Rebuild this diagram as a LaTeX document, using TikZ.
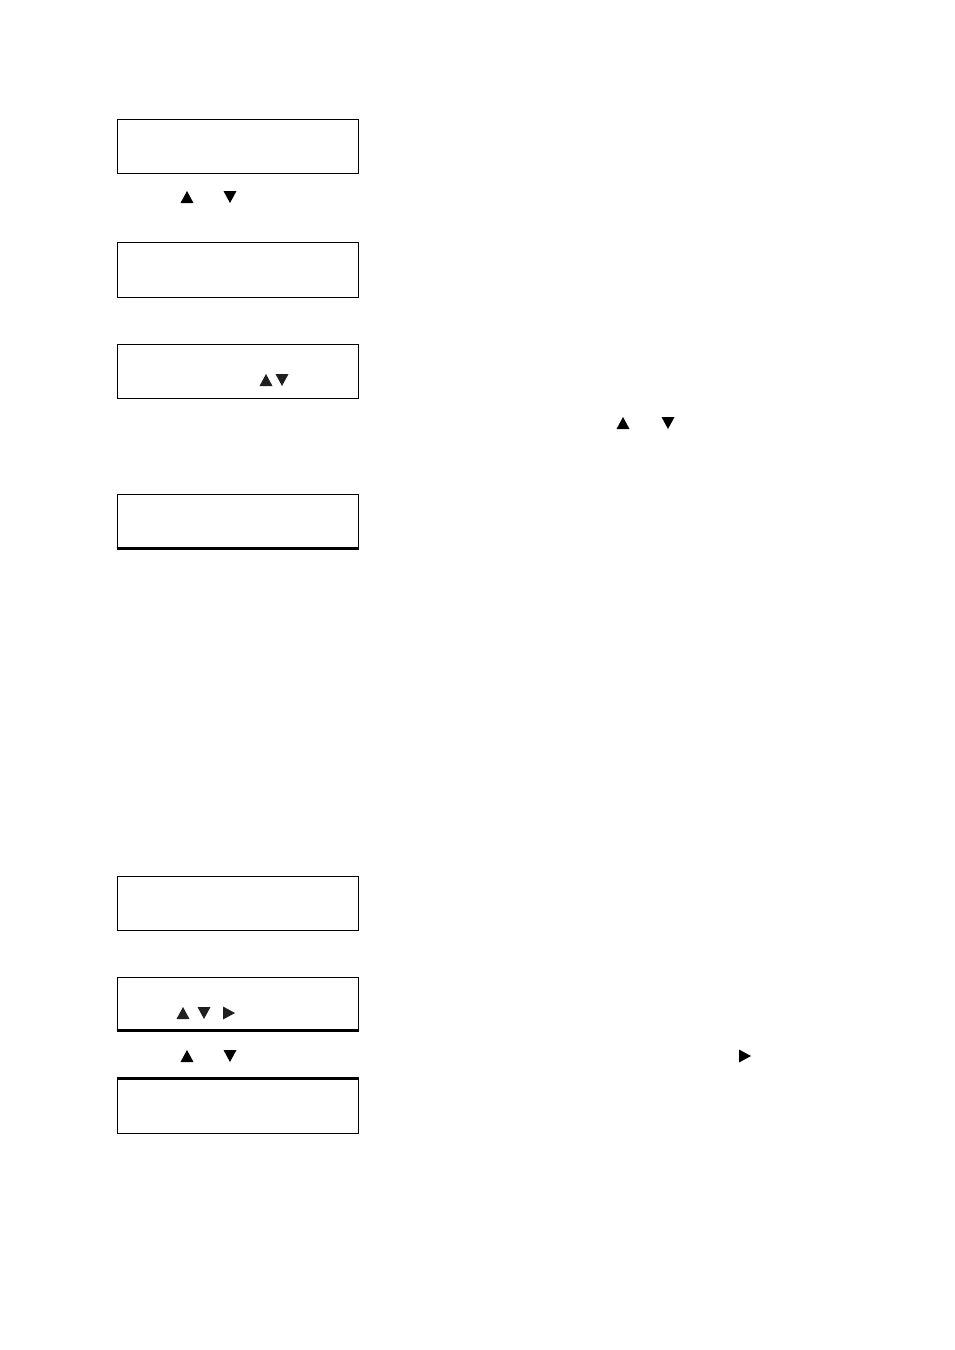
\documentclass[tikz,border=0pt]{standalone}
\begin{document}
\begin{tikzpicture}[x=1pt,y=-1pt,
  panel/.style={draw=black,line width=1pt},
  thickedge/.style={draw=black,line width=2.2pt},
  tri/.style={fill=black,draw=none},
  trig/.style={fill=black!88,draw=none},
  pics/upT/.style={code={\path[#1] (-6.5,6) -- (6.5,6) -- (0,-6) -- cycle;}},
  pics/dnT/.style={code={\path[#1] (-6.5,-6) -- (6.5,-6) -- (0,6) -- cycle;}},
  pics/rtT/.style={code={\path[#1] (-6,-6.5) -- (-6,6.5) -- (6,0) -- cycle;}}]
\useasboundingbox (0,0) rectangle (954,1350);
% panels
\draw[panel] (117,119) rectangle (358,173);
\draw[panel] (117,242) rectangle (358,297);
\draw[panel] (117,344) rectangle (358,398);
\draw[panel] (117,494) rectangle (358,549);
\draw[thickedge] (116.5,548.5) -- (358.5,548.5);
\draw[panel] (117,876) rectangle (358,930);
\draw[panel] (117,977) rectangle (358,1031);
\draw[thickedge] (116.5,1030.5) -- (358.5,1030.5);
\draw[panel] (117,1078) rectangle (358,1133);
\draw[thickedge] (116.5,1078.5) -- (358.5,1078.5);
% triangles
\pic at (187,197) {upT=tri};
\pic at (230,197) {dnT=tri};
\pic at (266,380) {upT=trig};
\pic at (282,380) {dnT=trig};
\pic at (623,423) {upT=tri};
\pic at (668,423) {dnT=tri};
\pic at (183,1013) {upT=trig};
\pic at (204,1013) {dnT=trig};
\pic at (229,1013) {rtT=trig};
\pic at (187,1056) {upT=tri};
\pic at (230,1056) {dnT=tri};
\pic at (745,1056) {rtT=tri};
\end{tikzpicture}
\end{document}
